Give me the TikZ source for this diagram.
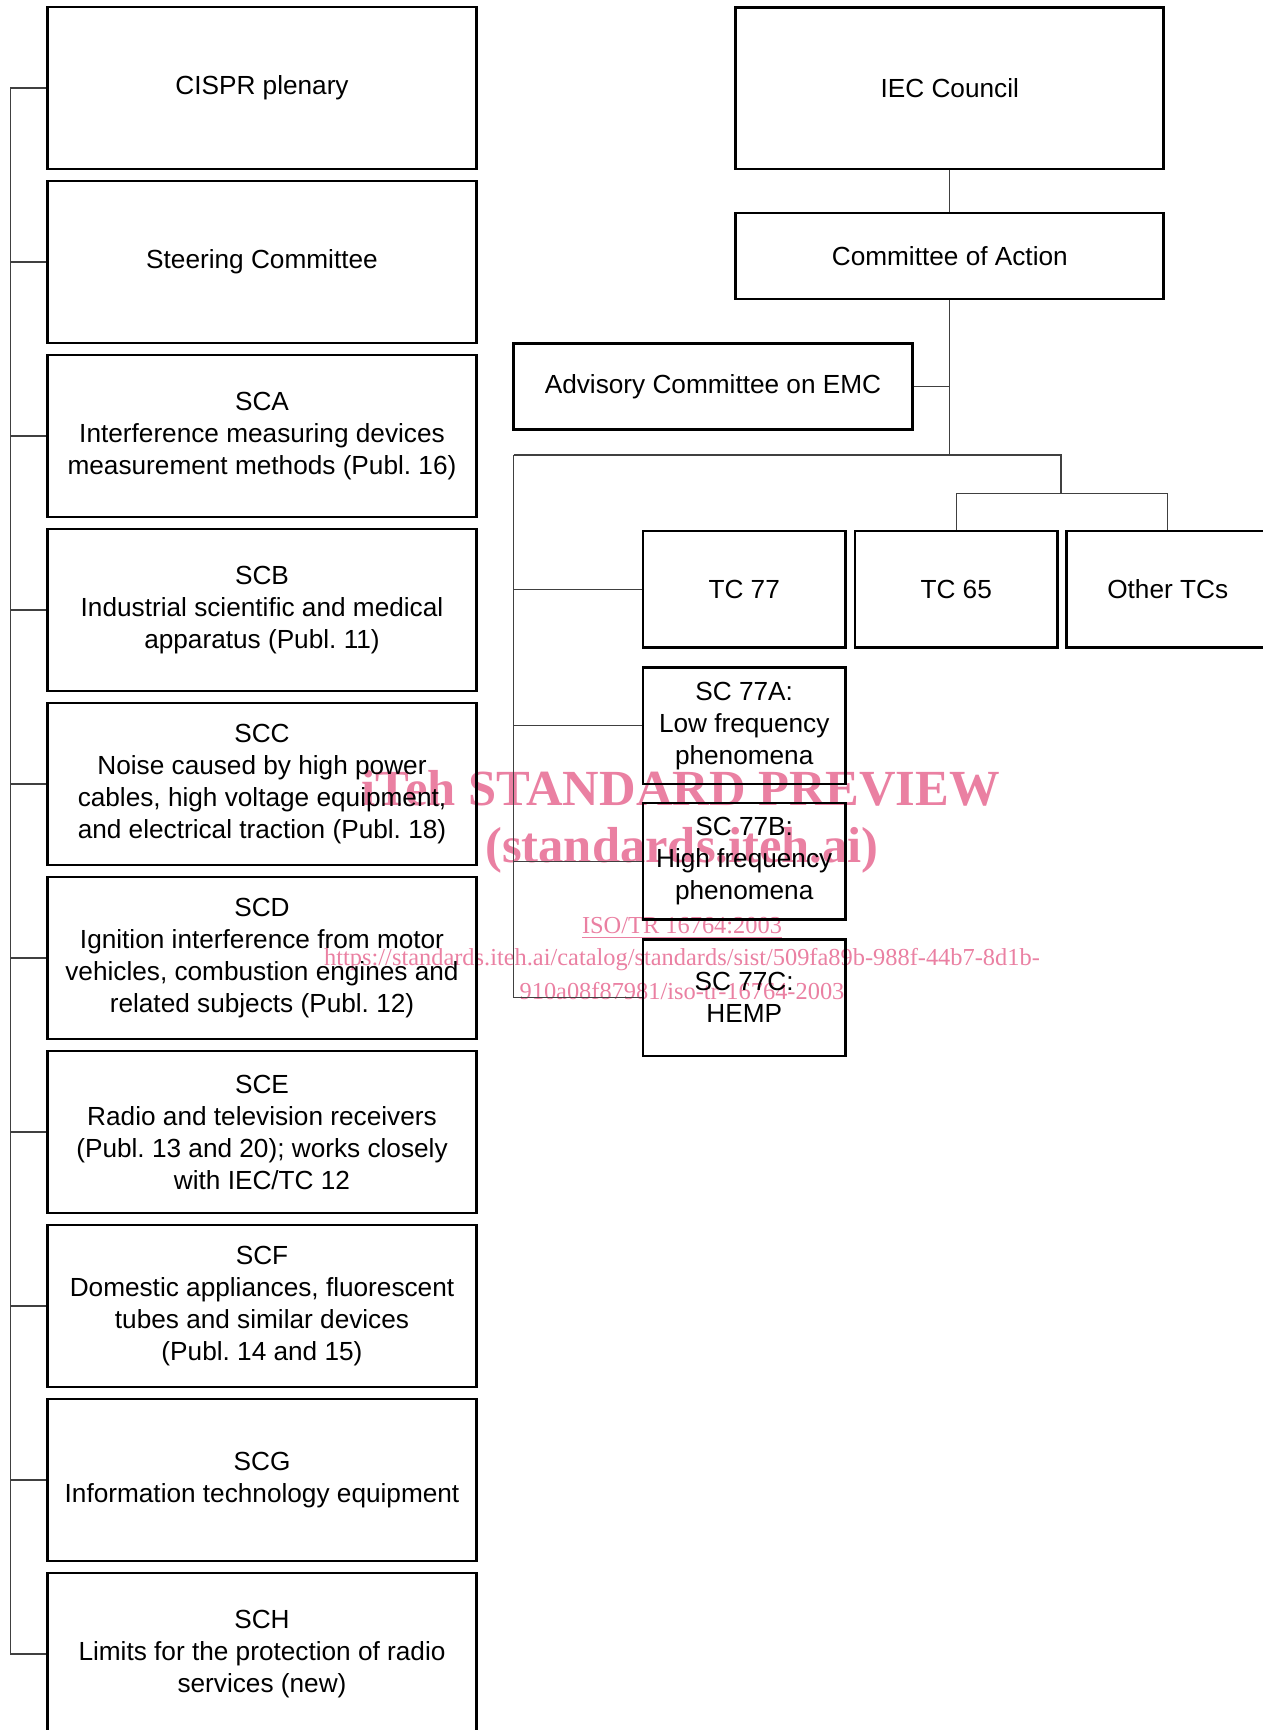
\documentclass[tikz,border=0pt]{standalone}
\usepackage{fontspec}
\setmainfont{Liberation Sans}
\newfontfamily\wmfont{Liberation Serif}
\definecolor{wmpink}{RGB}{234,128,162}
\frenchspacing

\begin{document}
\begin{tikzpicture}[x=0.5pt,y=-0.5pt,
  box/.style={draw,line width=1.35pt,align=center,inner sep=2pt,
    font=\fontsize{13.1}{16}\selectfont},
  cbox/.style={box,minimum width=214.5pt,minimum height=81pt},
  tcbox/.style={box,minimum width=101.25pt,minimum height=58.3pt},
  link/.style={draw=black!75,line width=0.55pt},
  wmark/.style={text=wmpink,inner sep=0pt}]
\useasboundingbox (0,0) rectangle (1263,1730);
\node[wmark,font=\wmfont\bfseries\fontsize{25.3}{28}\selectfont] (wm1) at (681,788) {iTeh STANDARD PREVIEW};
\node[wmark,font=\wmfont\bfseries\fontsize{25.3}{28}\selectfont] (wm2) at (682,850) {(standards.iteh.ai)};
\node[wmark,font=\wmfont\fontsize{12.2}{14}\selectfont] (wm3) at (682,928) {\underline{ISO/TR 16764:2003}};
\node[wmark,font=\wmfont\fontsize{12.2}{14}\selectfont] (wm4) at (682,960) {https://standards.iteh.ai/catalog/standards/sist/509fa89b-988f-44b7-8d1b-};
\node[wmark,font=\wmfont\fontsize{12.2}{14}\selectfont] (wm5) at (682,991) {910a08f87981/iso-tr-16764-2003};
\node[cbox] (cispr) at (262,88) {CISPR plenary};
\node[cbox] (steer) at (262,262) {Steering Committee};
\node[cbox] (sca) at (262,436) {SCA\\Interference measuring devices\\measurement methods (Publ. 16)};
\node[cbox] (scb) at (262,610) {SCB\\Industrial scientific and medical\\apparatus (Publ. 11)};
\node[cbox] (scc) at (262,784) {SCC\\Noise caused by high power\\cables, high voltage equipment,\\and electrical traction (Publ. 18)};
\node[cbox] (scd) at (262,958) {SCD\\Ignition interference from motor\\vehicles, combustion engines and\\related subjects (Publ. 12)};
\node[cbox] (sce) at (262,1132) {SCE\\Radio and television receivers\\(Publ. 13 and 20); works closely\\with IEC/TC 12};
\node[cbox] (scf) at (262,1306) {SCF\\Domestic appliances, fluorescent\\tubes and similar devices\\(Publ. 14 and 15)};
\node[cbox] (scg) at (262,1480) {SCG\\Information technology equipment};
\node[cbox] (sch) at (262,1654) {SCH\\Limits for the protection of radio\\services (new)};
\node[cbox,minimum width=214pt,minimum height=80.8pt] (iec) at (949.8,88.2) {IEC Council};
\node[box,minimum width=214pt,minimum height=43pt] (coa) at (949.8,256) {Committee of Action};
\node[box,minimum width=199.5pt,minimum height=43pt] (acemc) at (713,386.7) {Advisory Committee on EMC};
\node[tcbox] (tc77) at (744.2,589.3) {TC 77};
\node[tcbox] (tc65) at (956.2,589.3) {TC 65};
\node[tcbox] (other) at (1167.7,589.3) {Other TCs};
\node[tcbox] (sc77a) at (744.2,725.7) {SC 77A:\\Low frequency\\phenomena};
\node[tcbox] (sc77b) at (744.2,861.3) {SC 77B:\\High frequency\\phenomena};
\node[tcbox] (sc77c) at (744.2,997.7) {SC 77C:\\HEMP};
\coordinate (lbar) at (10.3,88);
\coordinate (rtop) at (513.5,455);
\coordinate (tcfork) at (1061,455);
\coordinate (tcbar) at (1061,493.7);
\draw[link] (cispr.west -| lbar) -- (sch.west -| lbar);
\foreach \n in {cispr,steer,sca,scb,scc,scd,sce,scf,scg,sch}
  \draw[link] (\n.west -| lbar) -- (\n.west);
\draw[link] (iec) -- (coa);
\draw[link] (coa) -- (coa |- rtop);
\draw[link] (acemc.east) -- (acemc.east -| coa);
\draw[link] (rtop) -- (tcfork) -- (tcbar);
\draw[link] (tc65.north |- tcbar) -- (other.north |- tcbar);
\draw[link] (tc65.north |- tcbar) -- (tc65.north);
\draw[link] (other.north |- tcbar) -- (other.north);
\draw[link] (rtop) |- (sc77c.west);
\foreach \n in {tc77,sc77a,sc77b}
  \draw[link] (rtop |- \n.west) -- (\n.west);
\end{tikzpicture}
\end{document}
